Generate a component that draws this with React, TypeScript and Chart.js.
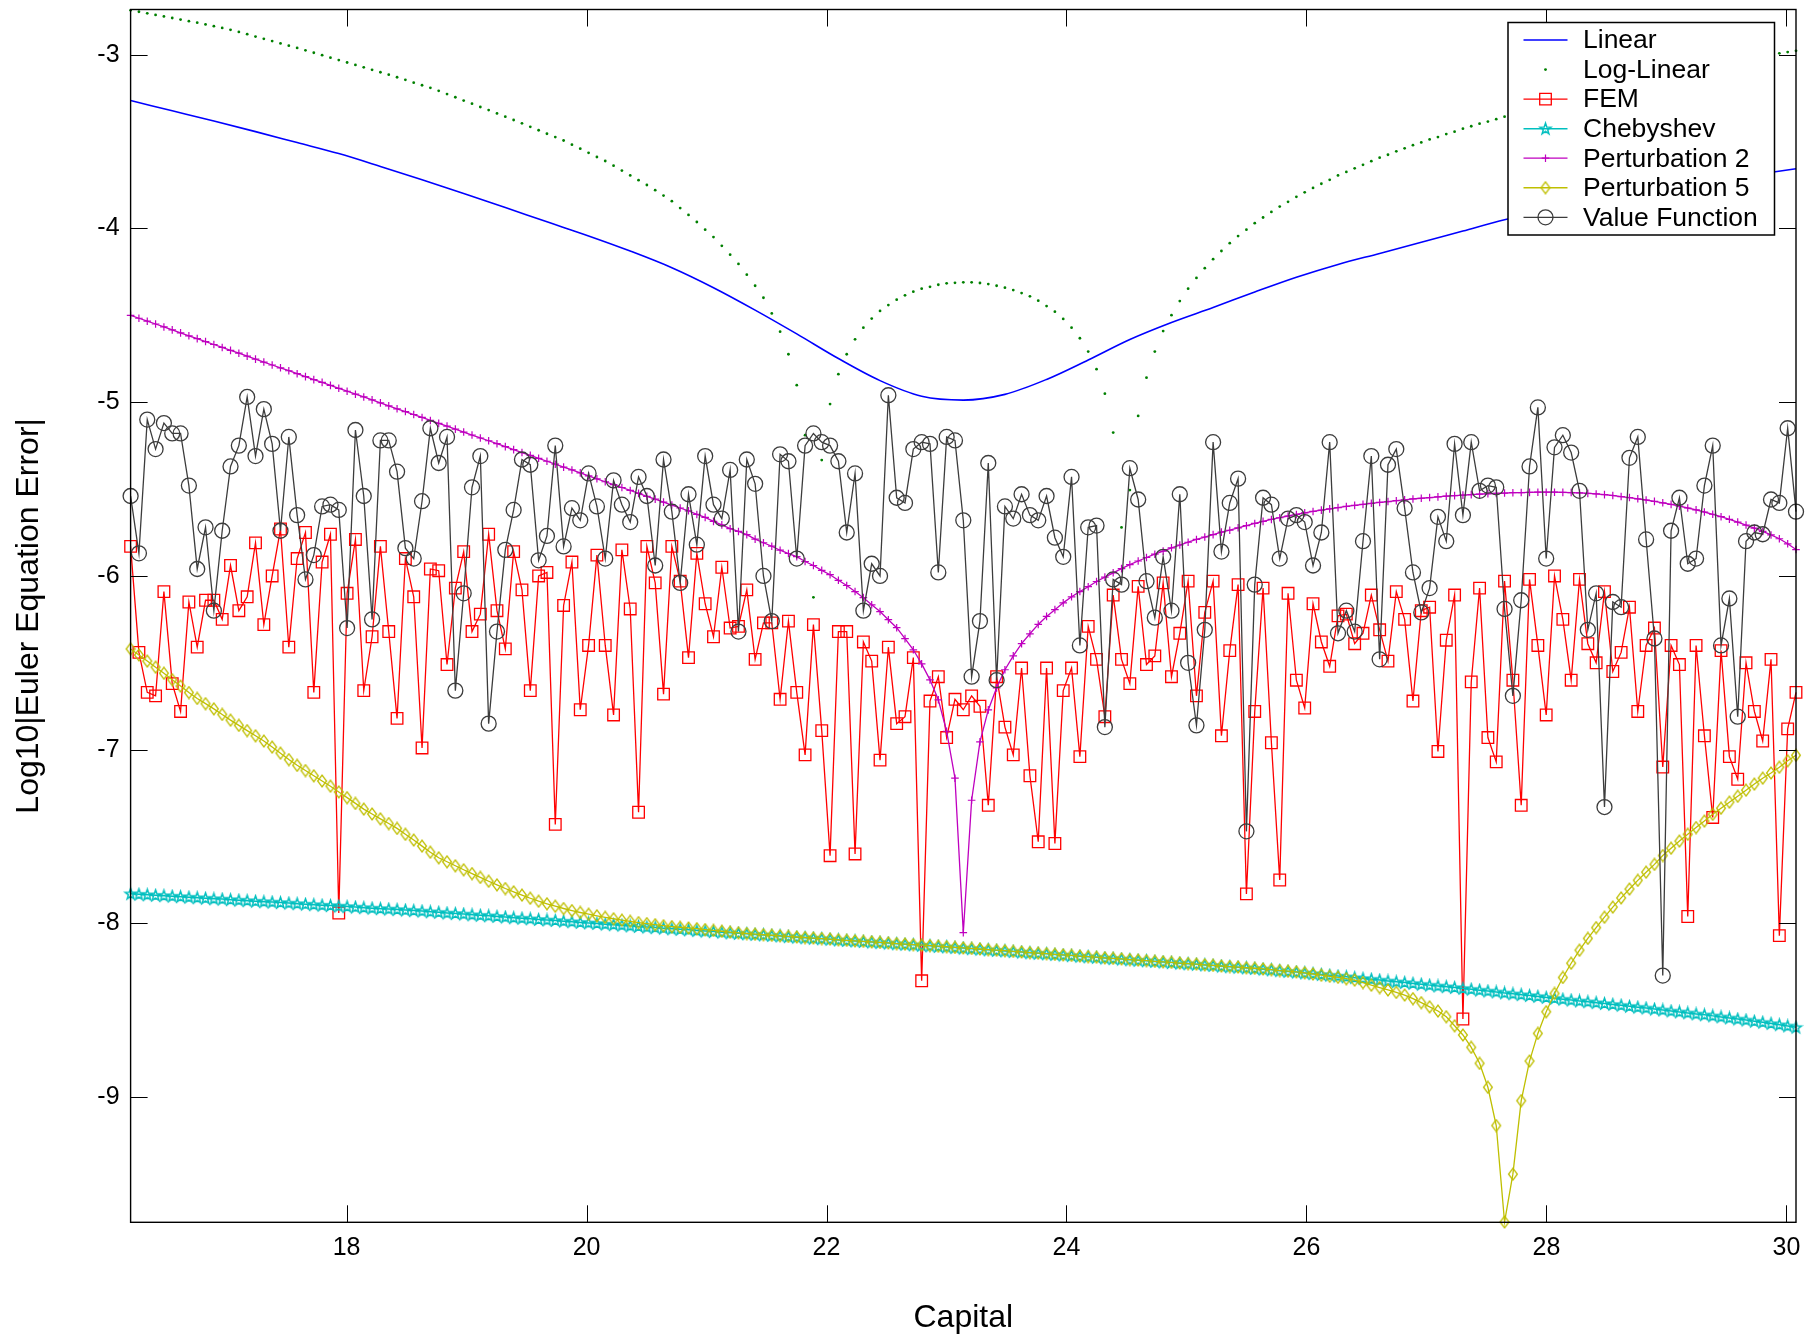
import React, { useEffect, useRef } from "react";
import { Chart, registerables } from "chart.js";
import { drawPoint } from "chart.js/helpers";

Chart.register(...registerables);

const FONT = "'Liberation Sans', Arial, Helvetica, sans-serif";

// ---- axis / grid ----
const K_MIN = 16.2;
const K_MAX = 30.08;
const N_POINTS = 201;
const capital: number[] = Array.from({ length: N_POINTS }, (_, i) => K_MIN + (i * (K_MAX - K_MIN)) / (N_POINTS - 1));
const Y_MIN = -9.72;
const Y_MAX = -2.74;
const xTickValues = [18, 20, 22, 24, 26, 28, 30];
const yTickValues = [-9, -8, -7, -6, -5, -4, -3];

const seriesLabels = ["Linear", "Log-Linear", "FEM", "Chebyshev", "Perturbation 2", "Perturbation 5", "Value Function"];

// Linear: sampled at every 5th capital grid point
const linearStride = 5;
const linearValues = [
  -3.264, -3.323, -3.382, -3.443, -3.506, -3.569, -3.643, -3.72, -3.799, -3.88,
  -3.962, -4.043, -4.13, -4.226, -4.341, -4.47, -4.607, -4.749, -4.876, -4.966,
  -4.988, -4.955, -4.869, -4.757, -4.639, -4.541, -4.455, -4.366, -4.281, -4.207,
  -4.144, -4.08, -4.015, -3.95, -3.897, -3.85, -3.806, -3.765, -3.727, -3.691,
  -3.657,
];

const logLinearValues = [
  -2.745, -2.753, -2.762, -2.771, -2.78, -2.789, -2.798, -2.807, -2.816, -2.826,
  -2.836, -2.846, -2.857, -2.869, -2.882, -2.896, -2.909, -2.922, -2.935, -2.948,
  -2.961, -2.975, -2.989, -3.003, -3.017, -3.031, -3.045, -3.059, -3.073, -3.087,
  -3.101, -3.115, -3.13, -3.145, -3.161, -3.176, -3.191, -3.208, -3.227, -3.245,
  -3.264, -3.282, -3.301, -3.319, -3.338, -3.357, -3.376, -3.395, -3.415, -3.435,
  -3.455, -3.474, -3.494, -3.518, -3.541, -3.565, -3.589, -3.612, -3.639, -3.667,
  -3.695, -3.722, -3.75, -3.78, -3.811, -3.843, -3.883, -3.922, -3.963, -4.007,
  -4.05, -4.1, -4.151, -4.204, -4.266, -4.33, -4.399, -4.489, -4.594, -4.724,
  -4.902, -5.19, -6.123, -5.333, -5.011, -4.839, -4.724, -4.638, -4.571, -4.519,
  -4.475, -4.441, -4.41, -4.385, -4.364, -4.347, -4.336, -4.324, -4.316, -4.313,
  -4.31, -4.31, -4.314, -4.32, -4.33, -4.341, -4.355, -4.372, -4.391, -4.416,
  -4.447, -4.479, -4.521, -4.571, -4.632, -4.709, -4.81, -4.951, -5.175, -5.721,
  -5.506, -5.079, -4.859, -4.709, -4.591, -4.499, -4.418, -4.347, -4.285, -4.229,
  -4.177, -4.13, -4.085, -4.044, -4.007, -3.97, -3.937, -3.905, -3.874, -3.847,
  -3.818, -3.792, -3.767, -3.743, -3.72, -3.695, -3.675, -3.654, -3.634, -3.613,
  -3.593, -3.576, -3.556, -3.539, -3.521, -3.505, -3.488, -3.474, -3.457, -3.443,
  -3.426, -3.412, -3.397, -3.385, -3.371, -3.357, -3.343, -3.33, -3.316, -3.303,
  -3.29, -3.277, -3.264, -3.252, -3.239, -3.227, -3.215, -3.203, -3.191, -3.18,
  -3.168, -3.157, -3.146, -3.135, -3.124, -3.113, -3.103, -3.092, -3.082, -3.072,
  -3.062, -3.053, -3.043, -3.034, -3.025, -3.016, -3.007, -2.999, -2.992, -2.985,
  -2.978,
];

const femValues = [
  -5.83, -6.44, -6.67, -6.69, -6.09, -6.62, -6.78, -6.15, -6.41, -6.14,
  -6.14, -6.25, -5.94, -6.2, -6.12, -5.81, -6.28, -6.0, -5.73, -6.41,
  -5.9, -5.75, -6.67, -5.92, -5.76, -7.94, -6.1, -5.79, -6.66, -6.35,
  -5.83, -6.32, -6.82, -5.9, -6.12, -6.99, -5.96, -5.97, -6.51, -6.07,
  -5.86, -6.32, -6.22, -5.76, -6.2, -6.42, -5.86, -6.08, -6.66, -6.0,
  -5.98, -7.43, -6.17, -5.92, -6.77, -6.4, -5.88, -6.4, -6.8, -5.85,
  -6.19, -7.36, -5.83, -6.04, -6.68, -5.83, -6.03, -6.47, -5.87, -6.16,
  -6.35, -5.95, -6.3, -6.29, -6.08, -6.48, -6.27, -6.27, -6.71, -6.26,
  -6.67, -7.03, -6.28, -6.89, -7.61, -6.32, -6.32, -7.6, -6.38, -6.49,
  -7.06, -6.41, -6.85, -6.81, -6.47, -8.33, -6.72, -6.58, -6.93, -6.71,
  -6.77, -6.69, -6.75, -7.32, -6.58, -6.87, -7.03, -6.53, -7.15, -7.53,
  -6.53, -7.54, -6.66, -6.53, -7.04, -6.29, -6.48, -6.81, -6.11, -6.48,
  -6.62, -6.06, -6.51, -6.46, -6.04, -6.58, -6.33, -6.03, -6.69, -6.21,
  -6.03, -6.92, -6.43, -6.05, -7.83, -6.78, -6.07, -6.96, -7.75, -6.1,
  -6.6, -6.76, -6.16, -6.38, -6.52, -6.23, -6.22, -6.39, -6.33, -6.11,
  -6.31, -6.49, -6.09, -6.25, -6.72, -6.2, -6.18, -7.01, -6.37, -6.11,
  -8.55, -6.61, -6.07, -6.93, -7.07, -6.03, -6.6, -7.32, -6.02, -6.4,
  -6.8, -6.0, -6.25, -6.6, -6.02, -6.39, -6.5, -6.09, -6.55, -6.44,
  -6.18, -6.78, -6.4, -6.3, -7.1, -6.4, -6.51, -7.96, -6.4, -6.92,
  -7.39, -6.43, -7.04, -7.17, -6.5, -6.78, -6.95, -6.48, -8.07, -6.88,
  -6.67,
];

const chebyshevValues = [
  -7.829, -7.832, -7.835, -7.838, -7.84, -7.843, -7.846, -7.849, -7.852, -7.855,
  -7.858, -7.86, -7.863, -7.866, -7.869, -7.872, -7.875, -7.877, -7.88, -7.883,
  -7.886, -7.889, -7.892, -7.895, -7.897, -7.9, -7.903, -7.906, -7.909, -7.912,
  -7.915, -7.917, -7.92, -7.923, -7.926, -7.929, -7.933, -7.936, -7.94, -7.943,
  -7.946, -7.95, -7.953, -7.956, -7.96, -7.963, -7.967, -7.97, -7.973, -7.977,
  -7.98, -7.983, -7.987, -7.99, -7.994, -7.997, -8.0, -8.004, -8.007, -8.01,
  -8.014, -8.017, -8.021, -8.024, -8.027, -8.031, -8.034, -8.037, -8.041, -8.044,
  -8.047, -8.05, -8.054, -8.057, -8.06, -8.063, -8.066, -8.069, -8.072, -8.076,
  -8.079, -8.082, -8.085, -8.088, -8.091, -8.095, -8.098, -8.101, -8.104, -8.107,
  -8.11, -8.113, -8.117, -8.12, -8.123, -8.126, -8.129, -8.132, -8.135, -8.139,
  -8.142, -8.145, -8.148, -8.152, -8.155, -8.158, -8.162, -8.165, -8.169, -8.172,
  -8.175, -8.179, -8.182, -8.185, -8.189, -8.192, -8.195, -8.199, -8.202, -8.205,
  -8.209, -8.212, -8.215, -8.219, -8.222, -8.225, -8.229, -8.232, -8.235, -8.239,
  -8.242, -8.246, -8.249, -8.252, -8.256, -8.259, -8.263, -8.267, -8.272, -8.276,
  -8.28, -8.285, -8.289, -8.294, -8.298, -8.303, -8.307, -8.312, -8.317, -8.321,
  -8.326, -8.331, -8.336, -8.34, -8.345, -8.35, -8.355, -8.36, -8.364, -8.369,
  -8.374, -8.379, -8.384, -8.389, -8.394, -8.4, -8.405, -8.41, -8.415, -8.42,
  -8.426, -8.431, -8.436, -8.441, -8.446, -8.451, -8.456, -8.461, -8.466, -8.471,
  -8.477, -8.482, -8.487, -8.493, -8.498, -8.504, -8.509, -8.515, -8.521, -8.526,
  -8.532, -8.538, -8.544, -8.55, -8.556, -8.563, -8.569, -8.576, -8.583, -8.59,
  -8.598,
];

const perturbation2Values = [
  -4.5, -4.517, -4.534, -4.55, -4.567, -4.584, -4.601, -4.618, -4.634, -4.651,
  -4.668, -4.685, -4.702, -4.718, -4.735, -4.752, -4.769, -4.786, -4.802, -4.819,
  -4.836, -4.853, -4.87, -4.886, -4.903, -4.92, -4.937, -4.954, -4.97, -4.987,
  -5.004, -5.021, -5.038, -5.054, -5.071, -5.088, -5.105, -5.122, -5.138, -5.155,
  -5.172, -5.189, -5.206, -5.222, -5.239, -5.256, -5.273, -5.29, -5.306, -5.323,
  -5.34, -5.357, -5.374, -5.39, -5.407, -5.424, -5.441, -5.458, -5.474, -5.491,
  -5.508, -5.525, -5.542, -5.558, -5.575, -5.592, -5.609, -5.625, -5.646, -5.663,
  -5.686, -5.706, -5.728, -5.744, -5.762, -5.788, -5.809, -5.829, -5.852, -5.871,
  -5.889, -5.917, -5.94, -5.968, -5.993, -6.025, -6.055, -6.09, -6.125, -6.166,
  -6.205, -6.252, -6.298, -6.361, -6.425, -6.506, -6.598, -6.713, -6.894, -7.164,
  -8.053, -7.291, -6.955, -6.771, -6.644, -6.54, -6.46, -6.39, -6.333, -6.279,
  -6.233, -6.194, -6.155, -6.12, -6.09, -6.062, -6.032, -6.007, -5.982, -5.958,
  -5.935, -5.914, -5.894, -5.875, -5.857, -5.838, -5.822, -5.806, -5.79, -5.776,
  -5.762, -5.748, -5.737, -5.723, -5.711, -5.698, -5.686, -5.675, -5.665, -5.655,
  -5.646, -5.637, -5.629, -5.621, -5.614, -5.607, -5.6, -5.594, -5.588, -5.582,
  -5.577, -5.572, -5.567, -5.562, -5.557, -5.553, -5.549, -5.545, -5.541, -5.538,
  -5.535, -5.532, -5.529, -5.527, -5.525, -5.523, -5.521, -5.52, -5.519, -5.518,
  -5.518, -5.518, -5.519, -5.52, -5.522, -5.525, -5.528, -5.532, -5.537, -5.543,
  -5.549, -5.556, -5.563, -5.571, -5.579, -5.588, -5.598, -5.609, -5.62, -5.632,
  -5.645, -5.659, -5.674, -5.69, -5.707, -5.725, -5.744, -5.764, -5.786, -5.815,
  -5.848,
];

const perturbation5Values = [
  -6.42, -6.455, -6.49, -6.525, -6.56, -6.597, -6.634, -6.671, -6.705, -6.735,
  -6.765, -6.797, -6.83, -6.86, -6.89, -6.92, -6.95, -6.985, -7.02, -7.057,
  -7.09, -7.12, -7.15, -7.18, -7.21, -7.243, -7.276, -7.309, -7.342, -7.37,
  -7.398, -7.425, -7.453, -7.487, -7.52, -7.555, -7.59, -7.622, -7.645, -7.668,
  -7.691, -7.713, -7.735, -7.757, -7.778, -7.799, -7.818, -7.837, -7.855, -7.872,
  -7.887, -7.901, -7.914, -7.926, -7.937, -7.947, -7.956, -7.965, -7.973, -7.981,
  -7.988, -7.995, -8.001, -8.007, -8.013, -8.018, -8.022, -8.026, -8.03, -8.035,
  -8.04, -8.045, -8.05, -8.054, -8.058, -8.062, -8.065, -8.068, -8.071, -8.075,
  -8.078, -8.081, -8.084, -8.087, -8.09, -8.094, -8.097, -8.1, -8.103, -8.106,
  -8.109, -8.112, -8.116, -8.119, -8.122, -8.125, -8.128, -8.131, -8.134, -8.138,
  -8.141, -8.144, -8.147, -8.151, -8.154, -8.157, -8.161, -8.164, -8.168, -8.171,
  -8.174, -8.178, -8.181, -8.184, -8.188, -8.191, -8.194, -8.198, -8.201, -8.204,
  -8.208, -8.211, -8.214, -8.218, -8.221, -8.224, -8.228, -8.231, -8.234, -8.238,
  -8.241, -8.245, -8.248, -8.251, -8.255, -8.258, -8.262, -8.266, -8.271, -8.275,
  -8.279, -8.284, -8.291, -8.298, -8.304, -8.31, -8.318, -8.326, -8.34, -8.355,
  -8.369, -8.383, -8.397, -8.412, -8.433, -8.456, -8.48, -8.504, -8.537, -8.589,
  -8.642, -8.713, -8.805, -8.943, -9.163, -9.718, -9.443, -9.02, -8.792, -8.633,
  -8.508, -8.403, -8.311, -8.229, -8.154, -8.086, -8.024, -7.964, -7.906, -7.853,
  -7.802, -7.752, -7.705, -7.66, -7.609, -7.567, -7.526, -7.487, -7.448, -7.411,
  -7.372, -7.337, -7.302, -7.268, -7.233, -7.198, -7.164, -7.134, -7.101, -7.064,
  -7.032,
];

const valueFunctionValues = [
  -5.54, -5.87, -5.1, -5.27, -5.12, -5.18, -5.18, -5.48, -5.96, -5.72,
  -6.2, -5.74, -5.37, -5.25, -4.97, -5.31, -5.04, -5.24, -5.74, -5.2,
  -5.65, -6.02, -5.88, -5.6, -5.59, -5.62, -6.3, -5.16, -5.54, -6.25,
  -5.22, -5.22, -5.4, -5.84, -5.9, -5.57, -5.15, -5.35, -5.2, -6.66,
  -6.1, -5.49, -5.31, -6.85, -6.32, -5.85, -5.62, -5.33, -5.36, -5.91,
  -5.77, -5.25, -5.83, -5.61, -5.68, -5.41, -5.6, -5.9, -5.45, -5.59,
  -5.69, -5.43, -5.54, -5.94, -5.33, -5.63, -6.04, -5.53, -5.82, -5.31,
  -5.59, -5.67, -5.39, -6.32, -5.33, -5.47, -6.0, -6.26, -5.3, -5.34,
  -5.9, -5.25, -5.18, -5.23, -5.25, -5.34, -5.75, -5.41, -6.2, -5.93,
  -6.0, -4.96, -5.55, -5.58, -5.27, -5.23, -5.24, -5.98, -5.2, -5.22,
  -5.68, -6.58, -6.26, -5.35, -6.6, -5.6, -5.67, -5.53, -5.65, -5.68,
  -5.54, -5.78, -5.89, -5.43, -6.4, -5.72, -5.71, -6.87, -6.02, -6.05,
  -5.38, -5.56, -6.03, -6.24, -5.89, -6.2, -5.53, -6.5, -6.86, -6.31,
  -5.23, -5.86, -5.58, -5.44, -7.47, -6.05, -5.55, -5.59, -5.9, -5.67,
  -5.65, -5.69, -5.94, -5.75, -5.23, -6.33, -6.2, -6.32, -5.8, -5.31,
  -6.48, -5.36, -5.27, -5.61, -5.98, -6.21, -6.07, -5.66, -5.8, -5.24,
  -5.65, -5.23, -5.51, -5.48, -5.49, -6.19, -6.69, -6.14, -5.37, -5.03,
  -5.9, -5.26, -5.19, -5.29, -5.51, -6.31, -6.1, -7.33, -6.15, -6.18,
  -5.32, -5.2, -5.79, -6.36, -8.3, -5.74, -5.55, -5.93, -5.9, -5.48,
  -5.25, -6.4, -6.13, -6.81, -5.8, -5.75, -5.76, -5.56, -5.58, -5.15,
  -5.63,
];

// ---- marker images (Matlab pentagram / diamond) ----
function makePentagram(color: string): HTMLCanvasElement {
  const c = document.createElement("canvas");
  c.width = 15;
  c.height = 15;
  const g = c.getContext("2d")!;
  const cx = 7.5, cy = 7.9, R = 5.8, r = R * 0.4;
  g.beginPath();
  for (let k = 0; k < 10; k++) {
    const a = -Math.PI / 2 + (k * Math.PI) / 5;
    const rr = k % 2 === 0 ? R : r;
    const px = cx + rr * Math.cos(a);
    const py = cy + rr * Math.sin(a);
    if (k === 0) g.moveTo(px, py);
    else g.lineTo(px, py);
  }
  g.closePath();
  g.strokeStyle = color;
  g.lineWidth = 1.5;
  g.stroke();
  return c;
}

function makeDiamond(color: string): HTMLCanvasElement {
  const c = document.createElement("canvas");
  c.width = 12;
  c.height = 14;
  const g = c.getContext("2d")!;
  g.beginPath();
  g.moveTo(6, 1.2);
  g.lineTo(10.4, 7);
  g.lineTo(6, 12.8);
  g.lineTo(1.6, 7);
  g.closePath();
  g.strokeStyle = color;
  g.lineWidth = 1.3;
  g.stroke();
  return c;
}

const toPoints = (vals: number[]) => vals.map((y, i) => ({ x: capital[i], y }));

const frameTicksPlugin = {
  id: "matlabFrame",
  afterDatasetsDraw(chart: any) {
    const { ctx, chartArea } = chart;
    const { left, right, top, bottom } = chartArea;
    const xs = chart.scales.x;
    const ys = chart.scales.y;
    const tl = 17;
    ctx.save();
    ctx.strokeStyle = "#000";
    ctx.lineWidth = 1;
    ctx.beginPath();
    xs.ticks.forEach((t: any) => {
      const px = Math.round(xs.getPixelForValue(t.value)) + 0.5;
      ctx.moveTo(px, bottom);
      ctx.lineTo(px, bottom - tl);
      ctx.moveTo(px, top);
      ctx.lineTo(px, top + tl);
    });
    ys.ticks.forEach((t: any) => {
      const py = Math.round(ys.getPixelForValue(t.value)) + 0.5;
      ctx.moveTo(left, py);
      ctx.lineTo(left + tl, py);
      ctx.moveTo(right, py);
      ctx.lineTo(right - tl, py);
    });
    ctx.stroke();
    ctx.lineWidth = 1.4;
    ctx.strokeRect(left, top, right - left, bottom - top);
    ctx.restore();
  },
};

const legendPlugin = {
  id: "matlabLegend",
  afterDraw(chart: any) {
    const { ctx, chartArea } = chart;
    const bx = chartArea.right - 288;
    const by = chartArea.top + 13;
    const bw = 266.5;
    const bh = 212.5;
    ctx.save();
    ctx.fillStyle = "#fff";
    ctx.fillRect(bx, by, bw, bh);
    ctx.strokeStyle = "#000";
    ctx.lineWidth = 1.5;
    ctx.strokeRect(bx, by, bw, bh);
    const rowH = 29.55;
    chart.data.datasets.forEach((ds: any, k: number) => {
      const y = by + 17.5 + k * rowH;
      const x0 = bx + 15.5;
      const x1 = bx + 59.5;
      const xm = (x0 + x1) / 2;
      if (ds.showLine !== false) {
        ctx.strokeStyle = ds.borderColor;
        ctx.lineWidth = ds.borderWidth;
        ctx.beginPath();
        ctx.moveTo(x0, y);
        ctx.lineTo(x1, y);
        ctx.stroke();
      }
      if (ds.pointRadius > 0) {
        ctx.strokeStyle = ds.pointBorderColor || ds.borderColor;
        ctx.fillStyle = ds.pointBackgroundColor || "rgba(0,0,0,0)";
        ctx.lineWidth = ds.pointBorderWidth;
        drawPoint(ctx, { pointStyle: ds.pointStyle, radius: ds.pointRadius, rotation: 0, borderWidth: ds.pointBorderWidth } as any, xm, y);
      }
      ctx.fillStyle = "#000";
      ctx.font = `26.5px ${FONT}`;
      ctx.textAlign = "left";
      ctx.textBaseline = "middle";
      ctx.fillText(ds.label, bx + 75, y + 1);
    });
    ctx.restore();
  },
};

export default function App() {
  const canvasRef = useRef<HTMLCanvasElement | null>(null);

  useEffect(() => {
    const canvas = canvasRef.current;
    if (!canvas) return;
    const star = makePentagram("#00bfbf");
    const diamond = makeDiamond("#bfbf00");
    const none = "rgba(0,0,0,0)";

    const linearPoints = linearValues.map((y, j) => ({ x: capital[j * linearStride], y }));

    const datasets: any[] = [
      {
        label: seriesLabels[0],
        data: linearPoints,
        borderColor: "#0000ff",
        borderWidth: 1.6,
        pointRadius: 0,
        cubicInterpolationMode: "monotone",
        order: 6,
      },
      {
        label: seriesLabels[1],
        data: toPoints(logLinearValues),
        showLine: false,
        borderColor: "#008000",
        borderWidth: 0,
        pointStyle: "circle",
        pointRadius: 1.4,
        pointBorderWidth: 0,
        pointBorderColor: "#008000",
        pointBackgroundColor: "#008000",
        order: 5,
      },
      {
        label: seriesLabels[2],
        data: toPoints(femValues),
        borderColor: "#ff0000",
        borderWidth: 1.3,
        pointStyle: "rect",
        pointRadius: 8.2,
        pointBorderWidth: 1.3,
        pointBorderColor: "#ff0000",
        pointBackgroundColor: none,
        order: 4,
      },
      {
        label: seriesLabels[3],
        data: toPoints(chebyshevValues),
        borderColor: "#00bfbf",
        borderWidth: 1.5,
        pointStyle: star,
        pointRadius: 5,
        pointBorderWidth: 1.5,
        pointBorderColor: "#00bfbf",
        pointBackgroundColor: none,
        order: 3,
      },
      {
        label: seriesLabels[4],
        data: toPoints(perturbation2Values),
        borderColor: "#bf00bf",
        borderWidth: 1.3,
        pointStyle: "cross",
        pointRadius: 3.8,
        pointBorderWidth: 1.2,
        pointBorderColor: "#bf00bf",
        pointBackgroundColor: none,
        order: 2,
      },
      {
        label: seriesLabels[5],
        data: toPoints(perturbation5Values),
        borderColor: "#bfbf00",
        borderWidth: 1.3,
        pointStyle: diamond,
        pointRadius: 5,
        pointBorderWidth: 1.3,
        pointBorderColor: "#bfbf00",
        pointBackgroundColor: none,
        order: 1,
      },
      {
        label: seriesLabels[6],
        data: toPoints(valueFunctionValues),
        borderColor: "#3c3c3c",
        borderWidth: 1.3,
        pointStyle: "circle",
        pointRadius: 7.5,
        pointBorderWidth: 1.3,
        pointBorderColor: "#3c3c3c",
        pointBackgroundColor: none,
        order: 0,
      },
    ];
    datasets.forEach((d) => {
      d.clip = false;
      if (!d.cubicInterpolationMode) d.tension = 0;
    });

    const chart = new Chart(canvas, {
      type: "line",
      data: { datasets },
      options: {
        animation: false,
        responsive: false,
        devicePixelRatio: 1,
        events: [],
        parsing: false,
        layout: { padding: { left: 0, right: 17, top: 8, bottom: 0 } },
        plugins: { legend: { display: false }, tooltip: { enabled: false }, title: { display: false } },
        scales: {
          x: {
            type: "linear",
            min: K_MIN,
            max: K_MAX,
            afterBuildTicks: (s: any) => {
              s.ticks = xTickValues.map((v) => ({ value: v }));
            },
            afterFit: (s: any) => {
              s.height = 116.7;
              s.paddingLeft = 0;
              s.paddingRight = 0;
              s.paddingTop = 0;
              s.paddingBottom = 0;
            },
            grid: { display: false, drawTicks: false },
            border: { display: false },
            ticks: {
              autoSkip: false,
              maxRotation: 0,
              minRotation: 0,
              padding: 11,
              color: "#000",
              font: { family: FONT, size: 25 },
            },
            title: {
              display: true,
              text: "Capital",
              color: "#000",
              font: { family: FONT, size: 32 },
              padding: { top: 0, bottom: 2 },
            },
          },
          y: {
            type: "linear",
            min: Y_MIN,
            max: Y_MAX,
            afterBuildTicks: (s: any) => {
              s.ticks = yTickValues.map((v) => ({ value: v }));
            },
            afterFit: (s: any) => {
              s.width = 130.6;
              s.paddingLeft = 0;
              s.paddingRight = 0;
              s.paddingTop = 0;
              s.paddingBottom = 0;
            },
            grid: { display: false, drawTicks: false },
            border: { display: false },
            ticks: {
              autoSkip: false,
              padding: 11,
              color: "#000",
              font: { family: FONT, size: 25 },
            },
            title: {
              display: true,
              text: "Log10|Euler Equation Error|",
              color: "#000",
              font: { family: FONT, size: 32 },
              padding: { top: 10, bottom: 0 },
            },
          },
        },
      } as any,
      plugins: [frameTicksPlugin, legendPlugin],
    });
    return () => chart.destroy();
  }, []);

  return (
    <div style={{ position: "absolute", left: 0, top: 0, width: 1813, height: 1339, background: "#fff" }}>
      <canvas ref={canvasRef} width={1813} height={1339} style={{ display: "block" }} />
    </div>
  );
}
